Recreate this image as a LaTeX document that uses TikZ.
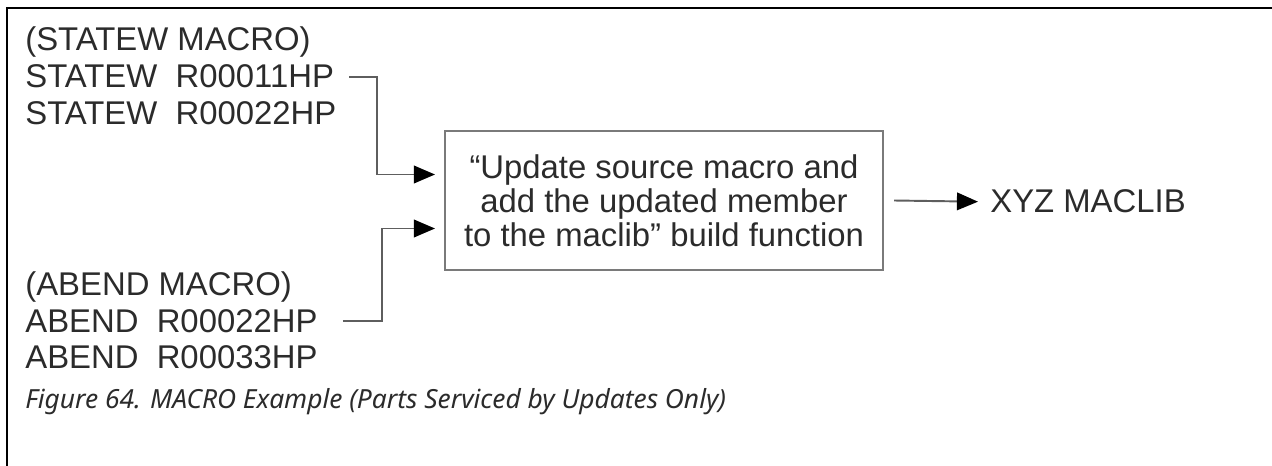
\documentclass[tikz,border=0pt]{standalone}
\usepackage{fontspec}
\setmainfont{Liberation Sans}
\newfontfamily\capfont{Noto Sans}
\usetikzlibrary{arrows.meta, positioning, calc}
\definecolor{inkgray}{HTML}{2B2B2B}
\definecolor{wiregray}{HTML}{5E5E5E}
\definecolor{boxgray}{HTML}{7A7A7A}

\begin{document}
\begin{tikzpicture}[
		x=0.02cm, y=-0.02cm,
		>={Triangle[length=12pt,width=10pt,black]},
		% Estilos
		member/.style={anchor=base west, inner sep=0pt, text=inkgray, font=\fontsize{18.7}{21}\selectfont},
		buildbox/.style={draw=boxgray, line width=1.2pt, rectangle, minimum width=8.76cm, minimum height=2.78cm, align=center, text=inkgray, font=\fontsize{18.7}{19.3}\selectfont},
		flow/.style={draw=wiregray, line width=1.1pt, ->}
		]
		\useasboundingbox (0,0) rectangle (1272,466);
		
		% Marco
		\draw[line width=1.7pt] (7,466) -- (7,8) -- (1272,8);
		
		% --- MIEMBROS STATEW ---
		\node [member] (statewhead) at (25,51) {(STATEW MACRO)};
		\node [member] (statewA) at (25,88) {STATEW\ \ R00011HP};
		\node [member] (statewB) at (25,125) {STATEW\ \ R00022HP};
		
		% --- MIEMBROS ABEND ---
		\node [member] (abendhead) at (25,296) {(ABEND MACRO)};
		\node [member] (abendA) at (25,332) {ABEND\ \ R00022HP};
		\node [member] (abendB) at (25,368) {ABEND\ \ R00033HP};
		
		% Funcion de build y salida
		\node [buildbox] (update) at (664,200.5) {“Update source macro and\\add the updated member\\to the maclib” build function};
		\node [member] (maclib) at (990,213) {XYZ MACLIB};
		
		% --- CONEXIONES ---
		\draw [flow] ([xshift=0.3cm]statewA.east) -- ++(28,0) |- ($(update.west)+(-9,-26)$);
		\draw [flow] ([xshift=0.5cm]abendA.east) -- ++(39,0) |- ($(update.west)+(-9,28)$);
		\draw [flow] ([xshift=0.2cm]update.east) -- ([xshift=-0.24cm]maclib.west);
		
		% Pie de figura
		\node [anchor=base west, inner sep=0pt, text=inkgray, font=\capfont\itshape\fontsize{15}{18}\selectfont] (caption) at (25,408) {Figure 64. MACRO Example (Parts Serviced by Updates Only)};
		
	\end{tikzpicture}
\end{document}
